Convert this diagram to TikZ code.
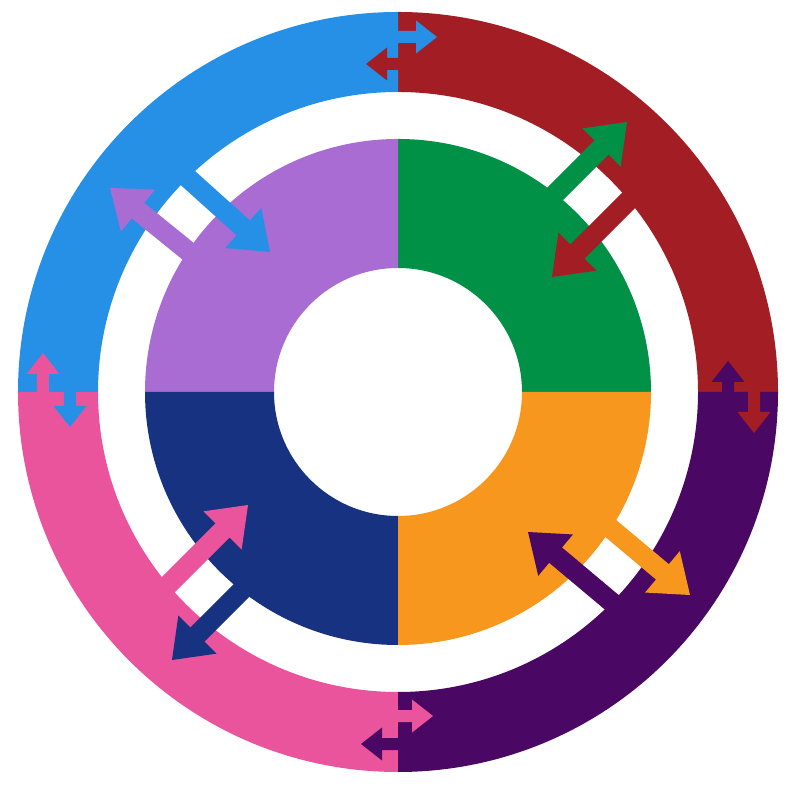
\documentclass[tikz,border=0pt]{standalone}
\usepackage{tikz}
\usepackage{xcolor}
\usetikzlibrary{calc}

\definecolor{skyblue}{RGB}{38,144,230}
\definecolor{wine}{RGB}{163,29,36}
\definecolor{plum}{RGB}{74,8,100}
\definecolor{rose}{RGB}{234,84,157}
\definecolor{lilac}{RGB}{169,108,211}
\definecolor{leaf}{RGB}{0,145,70}
\definecolor{amber}{RGB}{247,151,30}
\definecolor{navy}{RGB}{22,50,128}

% colour, tip, angle, length, shaft, head width, head length
\newcommand{\fatarrow}[7]{%
  \fill[#1, shift={#2}, rotate=#3]
    (0,0) -- (-#7,#6) -- (-#7,#5) -- (-#4,#5) -- (-#4,-#5) -- (-#7,-#5) -- (-#7,-#6) -- cycle;}
\newcommand{\bigarrow}[4]{\fatarrow{#1}{#2}{#3}{#4}{10}{27}{36}}
\newcommand{\seamarrow}[3]{\fatarrow{#1}{#2}{#3}{46}{6}{16.5}{21}}

\begin{document}
\begin{tikzpicture}[x=0.1mm, y=0.1mm]

        \useasboundingbox (-398,-408) rectangle (402,392);

        \foreach \a/\c in {0/wine, 90/skyblue, 180/rose, 270/plum}
          \fill[\c] (\a:380) arc[start angle=\a, end angle=\a+90, radius=380]
            -- ({\a+90}:300) arc[start angle=\a+90, end angle=\a, radius=300] -- cycle;

        \foreach \a/\c in {0/leaf, 90/lilac, 180/navy, 270/amber}
          \fill[\c] (\a:253) arc[start angle=\a, end angle=\a+90, radius=253]
            -- ({\a+90}:124) arc[start angle=\a+90, end angle=\a, radius=124] -- cycle;

        \bigarrow{leaf}{(229,270)}{45}{140}
        \bigarrow{wine}{(154,115)}{225}{170}
        \bigarrow{navy}{(-226,-268)}{225}{140}
        \bigarrow{rose}{(-150,-113)}{45}{170}
        \bigarrow{lilac}{(-288,204)}{141}{140}
        \bigarrow{skyblue}{(-128,140)}{-42}{170}
        \bigarrow{amber}{(292,-203)}{-40}{140}
        \bigarrow{plum}{(130,-140)}{140}{170}

        \seamarrow{skyblue}{(39,355)}{0}
        \seamarrow{wine}{(-32,328)}{180}
        \seamarrow{rose}{(-355,39)}{90}
        \seamarrow{skyblue}{(-328,-35)}{-90}
        \seamarrow{wine}{(356,-41)}{-90}
        \seamarrow{plum}{(330,31)}{90}
        \seamarrow{plum}{(-37,-352)}{180}
        \seamarrow{rose}{(35,-324)}{0}

\end{tikzpicture}
\end{document}
